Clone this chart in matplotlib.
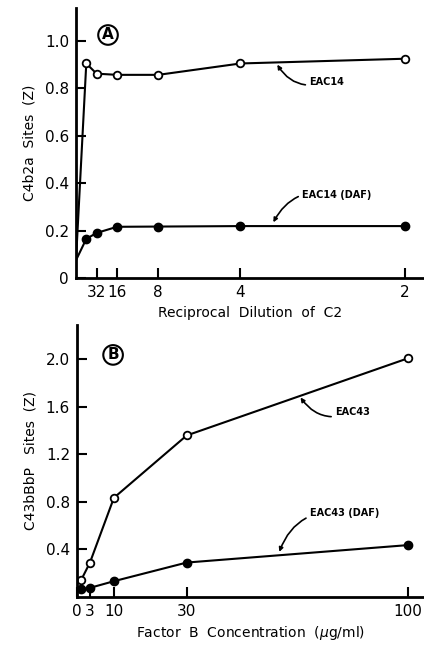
import matplotlib
matplotlib.use("Agg")
import matplotlib.pyplot as plt
import numpy as np

# Panel A data: reciprocal dilution of C2 (plotted as 1/dilution)
a_dil_labels = ["32", "16", "8", "4", "2"]
a_dil = [32, 16, 8, 4, 2]
a_x = [0, 1 / 64, 1 / 32, 1 / 16, 1 / 8, 1 / 4, 1 / 2]
a_eac14 = [0.075, 0.905, 0.862, 0.857, 0.857, 0.905, 0.925]
a_eac14_daf = [0.075, 0.165, 0.19, 0.216, 0.217, 0.219, 0.219]
a_yticks = [0, 0.2, 0.4, 0.6, 0.8, 1.0]
a_ylabels = ["0", "0.2", "0.4", "0.6", "0.8", "1.0"]

# Panel B data: factor B concentration (ug/ml)
b_x = [1, 3, 10, 30, 100]
b_eac43 = [0.14, 0.29, 0.835, 1.36, 2.01]
b_eac43_daf = [0.065, 0.077, 0.133, 0.29, 0.437]
b_xticks = [0, 3, 10, 30, 100]
b_yticks = [0.4, 0.8, 1.2, 1.6, 2.0]

# hand drawn, uneven x axis in panel B
b_knots_val = [0, 1, 3, 10, 30, 100, 105]
b_knots_pos = [77, 81, 90, 114, 187, 409, 425]

def fwd(v):
    return np.interp(v, b_knots_val, b_knots_pos)

def inv(p):
    return np.interp(p, b_knots_pos, b_knots_val)

plt.rcParams['font.family'] = ['DejaVu Sans']

fig = plt.figure(figsize=(4.24, 6.45), dpi=100)

def style(ax):
    for s in ["top", "right"]:
        ax.spines[s].set_visible(False)
    for s in ["left", "bottom"]:
        ax.spines[s].set_linewidth(2)
    ax.tick_params(direction="in", length=7, width=1.5, labelsize=11, pad=5)

# ---- Panel A ----
axA = fig.add_axes([76 / 424, 1 - 278 / 645, 348 / 424, 270 / 645])
axA.plot(a_x, a_eac14, "-o", color="black", lw=1.5, ms=5.5,
         mfc="white", mew=1.3, markevery=list(range(1, len(a_x))))
axA.plot(a_x, a_eac14_daf, "-o", color="black", lw=1.5, ms=6,
         markevery=list(range(1, len(a_x))))
axA.set_xlim(0, 0.529)
axA.set_ylim(0, 1.139)
axA.set_xticks([1 / d for d in a_dil])
axA.set_xticklabels(a_dil_labels)
axA.set_yticks(a_yticks)
axA.set_yticklabels(a_ylabels)
style(axA)
axA.set_xlabel("Reciprocal  Dilution  of  C2", fontsize=10, labelpad=4)
axA.set_ylabel("C4b2a  Sites  (Z)", fontsize=10, labelpad=6)
axA.text(0.092, 0.9, "A", transform=axA.transAxes, ha="center", va="center",
         fontsize=11, fontweight="bold",
         bbox=dict(boxstyle="circle,pad=0.15", fc="white", ec="black", lw=1.5))
axA.annotate("EAC14", xy=(0.306, 0.9), xytext=(0.355, 0.827),
             fontsize=7, fontweight="bold", ha="left", va="center",
             arrowprops=dict(arrowstyle="-|>", color="black", lw=1.2,
                             shrinkA=1, shrinkB=0, mutation_scale=6,
                             connectionstyle="arc3,rad=-0.4"))
axA.annotate("EAC14 (DAF)", xy=(0.3, 0.235), xytext=(0.344, 0.35),
             fontsize=7, fontweight="bold", ha="left", va="center",
             arrowprops=dict(arrowstyle="-|>", color="black", lw=1.2,
                             shrinkA=1, shrinkB=0, mutation_scale=6,
                             connectionstyle="arc3,rad=0.4"))

# ---- Panel B ----
axB = fig.add_axes([77 / 424, 1 - 597 / 645, 347 / 424, 272 / 645])
axB.set_xscale("function", functions=(fwd, inv))
axB.plot(b_x, b_eac43, "-o", color="black", lw=1.5, ms=5.5,
         mfc="white", mew=1.3)
axB.plot(b_x, b_eac43_daf, "-o", color="black", lw=1.5, ms=6)
axB.set_xlim(0, 105)
axB.set_ylim(0, 2.29)
axB.set_xticks(b_xticks)
axB.set_xticklabels([str(v) for v in b_xticks])
axB.set_yticks(b_yticks)
axB.set_yticklabels([f"{v:.1f}" for v in b_yticks])
style(axB)
axB.set_xlabel("Factor  B  Concentration  ($\\mu$g/ml)", fontsize=10, labelpad=4)
axB.set_ylabel("C43bBbP   Sites  (Z)", fontsize=10, labelpad=6)
axB.text(0.104, 0.89, "B", transform=axB.transAxes, ha="center", va="center",
         fontsize=11, fontweight="bold",
         bbox=dict(boxstyle="circle,pad=0.15", fc="white", ec="black", lw=1.5))
axB.annotate("EAC43", xy=(66, 1.68), xytext=(77, 1.554),
             fontsize=7, fontweight="bold", ha="left", va="center",
             arrowprops=dict(arrowstyle="-|>", color="black", lw=1.2,
                             shrinkA=1, shrinkB=0, mutation_scale=6,
                             connectionstyle="arc3,rad=-0.4"))
axB.annotate("EAC43 (DAF)", xy=(59.3, 0.38), xytext=(69, 0.71),
             fontsize=7, fontweight="bold", ha="left", va="center",
             arrowprops=dict(arrowstyle="-|>", color="black", lw=1.2,
                             shrinkA=1, shrinkB=0, mutation_scale=6,
                             connectionstyle="arc3,rad=0.4"))

fig.savefig("out.png", dpi=100)
